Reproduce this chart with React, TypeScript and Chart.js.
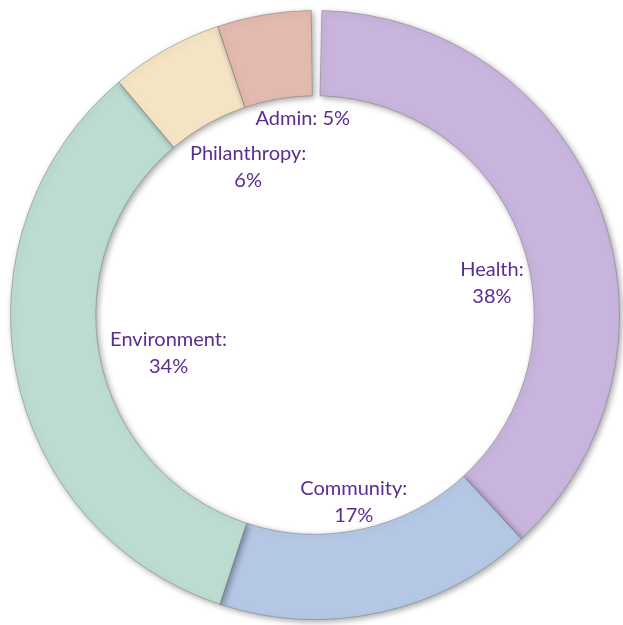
import React, { useEffect, useRef } from "react";
import { Chart, registerables } from "chart.js";

Chart.register(...registerables);

const categories = ["Health", "Community", "Environment", "Philanthropy", "Admin"];
const shares = [38, 17, 34, 6, 5];
const sliceColors = ["#c8b4dc", "#b4c8e6", "#bcdcd2", "#f4e4c4", "#e4b9ae"];
// label placement tweaks: [angle nudge in degrees, radius as fraction of inner radius, one line?]
const labelAngleNudge = [10.5, 0.5, -3.6, 5, 6.1];
const labelRadiusFrac = [0.82, 0.87, 0.69, 0.74, 0.9];
const labelSingleLine = [false, false, false, false, true];

const shadowPlugin = {
  id: "ringShadow",
  beforeDatasetsDraw(chart: any) {
    const ctx = chart.ctx;
    ctx.save();
    ctx.shadowColor = "rgba(0,0,0,0.35)";
    ctx.shadowBlur = 6;
    ctx.shadowOffsetX = 2;
    ctx.shadowOffsetY = 2;
  },
  afterDatasetsDraw(chart: any) {
    chart.ctx.restore();
  },
};

const labelPlugin = {
  id: "ringLabels",
  afterDraw(chart: any) {
    const ctx = chart.ctx;
    const meta = chart.getDatasetMeta(0);
    ctx.save();
    ctx.fillStyle = "#5a2d91";
    ctx.font = "20px Lato, 'Open Sans', sans-serif";
    ctx.textAlign = "center";
    ctx.textBaseline = "middle";
    meta.data.forEach((arc: any, i: number) => {
      const p = arc.getProps(["x", "y", "startAngle", "endAngle", "innerRadius"], true);
      const mid = (p.startAngle + p.endAngle) / 2 + (labelAngleNudge[i] * Math.PI) / 180;
      const r = p.innerRadius * labelRadiusFrac[i];
      const cx = p.x + Math.cos(mid) * r;
      const cy = p.y + Math.sin(mid) * r;
      const name = categories[i] + ":";
      const pct = shares[i] + "%";
      if (labelSingleLine[i]) {
        ctx.fillText(name + " " + pct, cx, cy);
      } else {
        ctx.fillText(name, cx, cy - 13.5);
        ctx.fillText(pct, cx, cy + 13.5);
      }
    });
    ctx.restore();
  },
};

export default function App() {
  const ref = useRef<HTMLCanvasElement | null>(null);
  useEffect(() => {
    if (!ref.current) return;
    const chart = new Chart(ref.current, {
      type: "doughnut",
      data: {
        labels: categories,
        datasets: [
          {
            data: shares,
            backgroundColor: sliceColors,
            borderColor: "rgba(110,110,110,0.45)",
            borderWidth: 1,
          },
        ],
      },
      options: {
        animation: false,
        responsive: true,
        maintainAspectRatio: false,
        cutout: "72%",
        rotation: 1.3,
        circumference: 358,
        layout: { padding: { left: 10, top: 10, right: 3, bottom: 5 } },
        plugins: {
          legend: { display: false },
          tooltip: { enabled: false },
        },
      },
      plugins: [shadowPlugin, labelPlugin],
    });
    return () => chart.destroy();
  }, []);
  return (
    <div style={{ position: "absolute", left: 0, top: 0, width: 623, height: 625, background: "#fff" }}>
      <canvas ref={ref} />
    </div>
  );
}
